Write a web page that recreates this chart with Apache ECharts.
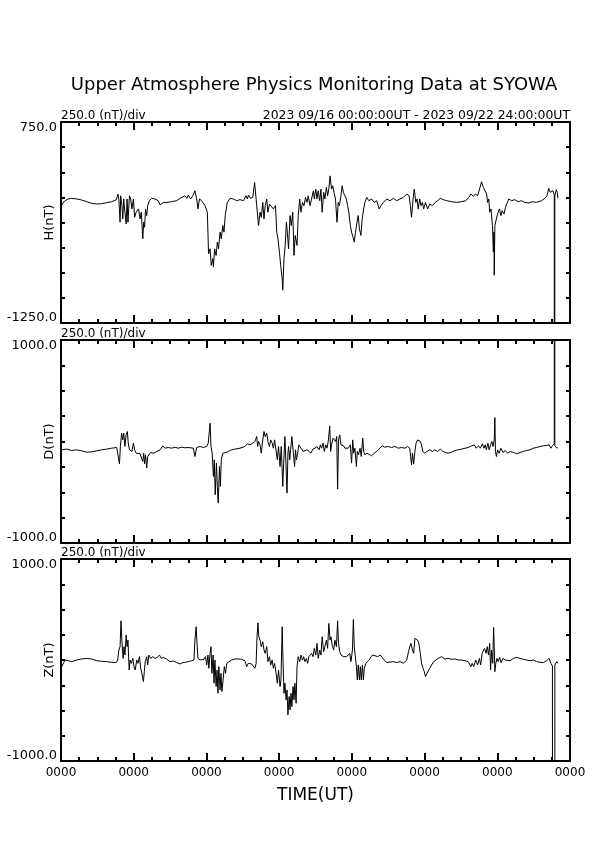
<!DOCTYPE html>
<html>
<head>
<meta charset="utf-8">
<script src="https://cdn.jsdelivr.net/npm/echarts@6/dist/echarts.min.js"></script>
<style>html,body{margin:0;padding:0;background:#fff}#c{width:595px;height:842px}</style>
</head>
<body>
<div id="c"></div>
<script>
// time in hours from 2023-09-16 00:00 UT, value in nT
const hData = [[0,-115],[0.4,-66],[1.3,-33],[2.4,-16],[3.5,-10],[5.2,-16],[6.8,-26],[8.5,-43],[10.1,-59],[11.8,-66],[13.4,-63],[15.1,-53],[16.7,-43],[18.2,-26],
[18.8,33],[19.1,-16],[19.5,-247],[19.7,16],[20.1,-82],[20.4,-215],[20.7,-16],[21.1,-148],[21.5,-264],[21.8,-16],[22.1,-247],[22.6,16],[23.0,-16],[23.4,-115],[23.9,-16],[24.3,-198],[24.8,-148],[25.2,-165],[25.6,-115],[26.1,-215],[26.5,-148],[27.0,-412],[27.3,-247],[27.6,-297],[27.9,-115],[28.3,-181],[28.6,-82],[29.2,-33],[29.9,-10],[31.0,-16],[32.1,-33],[32.7,-76],[33.8,-50],[34.9,-50],[36.5,-43],[38.2,-33],[39.3,-10],[39.8,-26],[40.9,16],[41.5,-10],[42.0,23],[42.8,-16],[43.5,16],[44.2,66],[44.8,-16],[45.2,-115],[45.7,-16],[46.4,-33],[47.5,-82],[48.3,-148],[48.7,-561],[49.2,-512],[49.6,-677],[50.1,-610],[50.3,-693],[50.7,-512],[51.2,-578],[51.6,-445],[52.0,-512],[52.5,-346],[52.9,-412],[53.4,-280],[53.8,-346],[54.2,-181],[54.9,-50],[55.8,-10],[56.9,-16],[58.0,-33],[59.1,-23],[60.2,-33],[61.1,16],[61.5,-16],[61.9,23],[62.6,-10],[63.3,0],[63.9,148],[64.4,-16],[64.8,0],[65.2,-280],[65.7,-148],[66.1,-198],[66.6,-50],[67.0,-215],[67.4,-82],[67.9,-16],[68.3,-148],[68.8,-66],[69.4,-82],[70.1,-115],[70.8,-82],[71.2,-346],[71.6,-412],[72.1,-545],[72.5,-677],[73.0,-808],[73.2,-924],[73.6,-610],[74.0,-478],[74.4,-247],[74.7,-346],[75.1,-512],[75.6,-181],[76.0,-280],[76.5,-148],[76.9,-578],[77.3,-379],
[77.9,-478],[78.3,-181],[78.8,-16],[79.2,-148],[79.7,-50],[80.2,-82],[80.7,0],[81.2,-50],[81.6,16],[82.2,-82],[82.7,-16],[83.3,66],[83.6,-16],[84.1,82],[84.5,-16],[84.9,66],[85.4,-33],[85.8,82],[86.2,-148],[86.7,50],[87.1,-16],[87.6,99],[88.0,16],[88.4,82],[88.8,214],[89.3,82],[89.7,115],[90.1,50],[90.6,-16],[91.1,-247],[91.5,-50],[91.9,-82],[92.4,16],[92.8,115],[93.2,50],[93.7,16],[94.2,-16],[94.6,-82],[95.0,-148],[95.5,-280],[95.9,-346],[96.4,-396],[96.8,-445],[97.2,-346],[97.7,-247],[98.1,-181],[98.5,-313],[99.0,-379],[99.4,-214],[99.9,-115],[100.3,-50],[100.9,0],[101.6,-33],[102.5,-16],[103.4,-50],[104.2,-33],[105.0,-115],[105.6,-82],[106.4,-50],[107.5,-16],[108.6,-33],[109.7,-10],[110.8,-33],[111.9,-16],[113.0,0],[114.1,33],[114.9,16],[115.3,-82],[115.7,-198],[116.2,-16],[116.6,82],[117.1,-50],[117.5,-16],[117.9,-115],[118.4,-16],[118.8,-82],[119.3,-50],[119.7,-115],[120.3,-50],[121.0,-115],[121.7,-66],[122.6,-82],[123.5,-50],[124.3,-33],[125.2,-10],[126.2,-23],[127.3,-33],[128.9,-43],[130.6,-50],[132.2,-43],[133.6,-33],[134.6,0],[135.3,33],[136.1,10],[136.8,33],[137.5,16],[138.3,99],[138.8,155],[139.4,99],[139.9,82],[140.5,33],[140.8,-50],[141.2,-16],[141.5,-148],[141.9,-115],[142.4,-280],[142.7,-545],[142.9,-346],[143.0,-775],[143.2,-280],[143.7,-214],[144.1,-165],[144.7,-115],[145.2,-181],[145.6,-132],[146.2,-165],[146.7,-99],[147.2,-115],[147.8,-16],[148.7,-33],[149.8,-23],[150.9,-43],[152.0,-33],[153.1,-50],[154.2,-56],[155.6,-43],[157.0,-50],[158.6,-33],[159.7,-10],[160.4,16],[161.0,89],[161.5,50],[161.9,33],[162.4,66],[162.8,23],[162.9,-40000],[163.0,16],[163.5,76],[163.8,50],[164.0,-10]];

const dData = [[0,-82],[1.9,-75],[3.5,-89],[5.2,-82],[6.8,-92],[8.5,-105],[10.1,-102],[11.8,-92],[13.4,-82],[15.1,-75],[16.7,-66],[18.4,-59],[19.0,-66],[19.3,-220],[19.6,-49],[20.0,82],[20.4,16],[20.7,82],[21.1,-49],[21.5,66],[21.9,98],[22.2,-16],[22.6,-82],[23.0,-66],[23.4,-98],[23.9,-16],[24.3,-82],[24.8,-115],[25.4,-98],[26.1,-121],[26.5,-108],[27.0,-197],[27.3,-115],[27.6,-220],[27.9,-131],[28.3,-262],[28.6,-148],[29.0,-131],[29.6,-108],[30.5,-115],[31.6,-98],[32.7,-82],[33.6,-43],[34.3,-66],[35.4,-59],[36.5,-66],[37.6,-56],[38.7,-66],[39.8,-56],[40.9,-62],[42.0,-59],[43.7,-66],[44.2,-148],[44.8,-59],[45.9,-49],[47.0,-59],[48.1,-49],[48.6,-16],[49.2,180],[49.5,-49],[49.9,-115],[50.3,-344],[50.6,-180],[50.9,-525],[51.3,-213],[51.6,-443],[51.9,-607],[52.3,-246],[52.6,-443],[52.9,-180],[53.4,-115],[53.8,-131],[54.5,-108],[55.2,-98],[56.3,-82],[57.4,-75],[59.1,-66],[60.7,-49],[61.5,-23],[62.4,-33],[63.3,-16],[64.0,0],[64.6,49],[64.9,-49],[65.2,0],[65.7,-33],[66.1,-115],[66.6,16],[67.0,98],[67.4,49],[67.9,82],[68.3,0],[68.8,-49],[69.2,16],[69.7,-16],[70.1,-66],[70.5,16],[71.0,33],[71.4,-180],[71.8,-49],[72.3,-246],[72.7,-49],[73.2,-443],[73.5,-213],[73.9,49],[74.2,-180],[74.6,-508],[74.9,-115],[75.1,-49],[75.5,-180],[75.8,-82],[76.2,49],[76.7,-115],[77.1,-246],[77.4,-82],[77.7,-180],[78.1,-115],[78.5,-33],
[79.2,-66],[79.9,-98],[80.5,-115],[81.2,-82],[81.8,-98],[82.5,-115],[83.1,-75],[83.8,-66],[84.5,-49],[85.2,-82],[85.6,-33],[86.0,-66],[86.5,-16],[86.9,-98],[87.4,-33],[87.8,-66],[88.2,0],[88.7,154],[89.0,-98],[89.3,-33],[89.8,33],[90.2,49],[90.6,0],[91.0,49],[91.3,-469],[91.6,16],[92.0,66],[92.4,-33],[92.8,-49],[93.3,-43],[93.7,-66],[94.3,-49],[94.8,-66],[95.5,-33],[95.9,-213],[96.3,16],[96.6,-115],[97.0,-66],[97.5,-246],[97.8,-98],[98.2,-131],[98.7,-66],[99.1,-148],[99.6,33],[99.9,-98],[100.3,-131],[101.0,-115],[101.6,-131],[102.5,-141],[103.4,-115],[104.2,-98],[105.3,-66],[106.0,-43],[106.9,-56],[108.0,-49],[109.1,-59],[110.2,-49],[111.3,-66],[112.4,-59],[113.5,-66],[114.4,-49],[115.1,-66],[115.4,-148],[115.7,-230],[116.0,-115],[116.4,-220],[116.8,-98],[117.2,-16],[117.7,16],[118.1,16],[118.6,0],[119.0,-33],[119.4,-98],[120.1,-115],[120.8,-98],[121.7,-82],[122.6,-98],[123.4,-82],[124.3,-98],[125.2,-75],[126.0,-98],[126.9,-108],[127.8,-115],[128.9,-105],[130.0,-89],[131.1,-82],[132.2,-75],[133.4,-66],[134.4,-59],[135.5,-43],[136.4,-33],[137.0,-66],[137.8,-43],[138.4,-66],[139.1,-23],[139.6,-66],[140.0,-33],[140.4,-82],[140.9,-16],[141.3,-82],[141.8,-33],[142.2,0],[142.6,-49],[143.0,16],[143.2,236],[143.4,-98],[143.7,-148],[144.1,-82],[144.6,-115],[145.2,-66],[145.9,-108],[146.6,-89],[147.4,-115],[148.3,-98],[149.3,-108],[150.4,-121],[151.5,-108],[152.6,-98],[153.7,-89],[154.8,-82],[155.9,-66],[157.0,-59],[158.1,-49],[159.2,-43],[160.3,-39],[161.1,-33],[161.7,-66],[162.2,-43],[162.6,-49],[162.8,-23],[162.9,40000],[163.0,-43],[163.7,-66],[164.0,-59]];

const zData = [[0,-82],[0.3,-99],[0.8,-33],[1.3,0],[2.4,-7],[3.5,-16],[5.2,0],[6.8,10],[8.5,16],[10.1,10],[11.8,-7],[13.4,-13],[15.1,-16],[16.7,-23],[18.2,-26],[18.7,0],[19.1,99],[19.5,132],[19.8,388],[20.1,197],[20.5,16],[20.8,132],[21.1,49],[21.5,247],[21.8,132],[22.1,197],[22.5,-99],[22.8,0],[23.2,-33],[23.7,16],[24.1,-66],[24.5,-99],[25.0,0],[25.4,-33],[25.9,33],[26.3,-82],[26.7,-132],[27.2,-214],[27.5,-115],[27.8,-16],[28.3,33],[28.6,-49],[29.0,49],[29.6,16],[30.3,33],[31.0,16],[31.8,26],[32.5,49],[33.1,16],[33.8,26],[34.9,7],[36.0,-16],[37.1,-10],[38.2,-26],[39.3,-39],[40.2,-26],[41.0,-23],[42.0,-16],[43.1,-7],[43.9,0],[44.2,197],[44.6,329],[44.9,164],[45.2,16],[45.9,0],[46.5,-7],[47.2,7],[47.7,33],[48.1,-49],[48.5,49],[48.8,-82],[49.2,66],[49.5,132],[49.8,-132],[50.2,49],[50.5,-230],[50.8,0],[51.2,-263],[51.5,-99],[51.8,-329],[52.1,-66],[52.5,-296],[52.8,-132],[53.1,-313],[53.5,-197],[53.9,-66],[54.3,-132],[54.7,-33],[55.3,-16],[56.3,0],[57.4,10],[58.5,10],[59.6,7],[60.7,-7],[61.3,-66],[61.8,-33],[62.4,-49],[62.9,-39],[63.5,-49],[64.0,-82],[64.4,-33],[64.7,230],[65.0,368],[65.3,230],[65.7,197],[66.1,132],[66.6,181],[67.0,99],[67.4,66],[67.9,132],[68.3,-16],[68.8,33],[69.2,-49],[69.7,0],[70.1,-82],[70.5,-33],[71.0,-132],[71.4,-230],[71.8,-99],[72.3,-263],[72.6,-197],[73.0,329],[73.3,-33],[73.6,-329],[73.9,-230],[74.3,-395],[74.6,-296],[74.9,-543],[75.3,-362],[75.6,-494],[75.9,-329],[76.2,-461],[76.6,-263],[76.9,-395],[77.2,-230],[77.6,-428],[77.9,-66],
[78.3,33],[78.8,-16],[79.2,49],[79.7,0],[80.1,33],[80.5,-16],[81.0,16],[81.4,-33],[81.8,33],[82.3,16],[82.7,66],[83.2,33],[83.6,115],[84.1,49],[84.5,164],[84.9,16],[85.4,99],[85.8,49],[86.2,230],[86.7,82],[87.1,132],[87.6,197],[88.0,115],[88.4,362],[88.8,197],[89.1,230],[89.6,132],[90.0,99],[90.4,197],[90.9,132],[91.3,388],[91.6,164],[92.0,82],[92.4,49],[92.8,66],[93.3,33],[93.7,49],[94.3,33],[94.8,16],[95.3,66],[95.7,-16],[96.2,99],[96.5,401],[96.8,132],[97.1,49],[97.5,-66],[97.8,-197],[98.1,-49],[98.5,-197],[98.8,-66],[99.1,-197],[99.5,-49],[99.8,-197],[100.1,-82],[100.6,-33],[101.0,-49],[101.7,0],[102.3,33],[103.0,49],[103.6,39],[104.5,33],[105.4,49],[106.0,33],[106.7,0],[107.5,-26],[108.6,-20],[109.7,-16],[110.8,-26],[111.9,-16],[113.0,-33],[114.1,0],[114.7,82],[115.1,132],[115.5,164],[116.0,99],[116.4,66],[116.8,214],[117.3,230],[117.7,197],[118.1,164],[118.6,66],[119.0,-33],[119.5,-82],[119.9,-115],[120.3,-164],[120.8,-132],[121.2,-115],[121.7,-82],[122.3,-49],[123.0,-16],[123.6,0],[124.5,16],[125.6,33],[126.7,10],[127.8,16],[128.9,7],[130.0,10],[131.1,0],[132.2,0],[133.4,-7],[134.4,-16],[135.3,-66],[135.7,-33],[136.2,-66],[136.9,0],[137.5,-49],[138.1,16],[138.5,-49],[139.0,66],[139.4,82],[139.8,115],[140.3,66],[140.7,132],[141.1,49],[141.5,164],[141.8,-99],[142.1,99],[142.5,-33],[142.8,322],[143.2,-115],[143.5,-33],[143.9,16],[144.3,-16],[144.8,26],[145.2,-26],[145.9,16],[146.6,0],[147.2,7],[148.2,-7],[149.3,16],[150.4,26],[151.5,16],[152.6,7],[153.7,0],[154.8,-7],[155.9,0],[157.0,-16],[158.1,-23],[159.2,-26],[160.3,-7],[161.1,16],[161.7,-33],[162.2,-59],[162.6,-49],[162.8,-66],[162.9,-40000],[163.0,-49],[163.7,-16],[164.0,-33]];

const panelNames = ['H(nT)', 'D(nT)', 'Z(nT)'];
const panelMin = [-1250, -1000, -1000];
const panelMax = [750, 1000, 1000];
const panelData = [hData, dData, zData];
const scaleText = '250.0 (nT)/div';
const periodText = '2023 09/16 00:00:00UT - 2023 09/22 24:00:00UT';
const titleText = 'Upper Atmosphere Physics Monitoring Data at SYOWA';
const xTickLabel = '0000';

const FONT = 'DejaVu Sans';
const grids = [
  {left: 61, width: 509, top: 122, height: 201, containLabel: false, outerBoundsMode: 'none'},
  {left: 61, width: 509, top: 340, height: 203, containLabel: false, outerBoundsMode: 'none'},
  {left: 61, width: 509, top: 559, height: 202, containLabel: false, outerBoundsMode: 'none'}
];

const xAxes = [], yAxes = [], series = [], graphics = [];
grids.forEach((g, i) => {
  const lineStyle = {color: '#000', width: 2};
  const common = {
    type: 'value', gridIndex: i, min: 0, max: 168, interval: 24,
    axisLine: {show: true, onZero: false, lineStyle},
    axisTick: {show: true, inside: true, length: 8, lineStyle: {color: '#000', width: 2}},
    minorTick: {show: true, splitNumber: 4, length: 4, lineStyle: {color: '#000', width: 2}},
    splitLine: {show: false}
  };
  xAxes.push(Object.assign({}, common, {
    position: 'bottom',
    axisLabel: {show: i === 2, formatter: () => xTickLabel, fontFamily: FONT, fontSize: 12, color: '#000', margin: 6},
    name: i === 2 ? 'TIME(UT)' : '', nameLocation: 'middle', nameGap: 26, nameMoveOverlap: false,
    nameTextStyle: {fontFamily: FONT, fontSize: 17, color: '#000'}
  }));
  xAxes.push(Object.assign({}, common, {position: 'top', axisLabel: {show: false}}));
  const mn = panelMin[i], mx = panelMax[i];
  const ycommon = {
    type: 'value', gridIndex: i, min: mn, max: mx, interval: 250,
    axisLine: {show: true, onZero: false, lineStyle},
    axisTick: {show: true, inside: true, length: 4, lineStyle: {color: '#000', width: 2}},
    splitLine: {show: false}
  };
  yAxes.push(Object.assign({}, ycommon, {
    position: 'left',
    name: panelNames[i], nameLocation: 'middle', nameRotate: 90, nameGap: 5, nameMoveOverlap: false,
    nameTextStyle: {fontFamily: FONT, fontSize: 13, color: '#000'},
    axisLabel: {
      show: true, margin: 4, color: '#000', fontFamily: FONT, fontSize: 13,
      formatter: (v) => v === mx ? '{t|' + v.toFixed(1) + '}' : (v === mn ? '{b|' + v.toFixed(1) + '}' : ''),
      rich: {
        t: {fontFamily: FONT, fontSize: 13, color: '#000', padding: [12, 0, 0, 0]},
        b: {fontFamily: FONT, fontSize: 13, color: '#000', padding: [0, 0, 10, 0]}
      }
    }
  }));
  yAxes.push(Object.assign({}, ycommon, {position: 'right', axisLabel: {show: false}}));
  series.push({
    type: 'line', xAxisIndex: i * 2, yAxisIndex: i * 2, data: panelData[i],
    showSymbol: false, symbol: 'none', clip: true,
    lineStyle: {color: '#000', width: 1}, animation: false
  });
  graphics.push({
    type: 'text', left: 61, top: g.top - 12, silent: true,
    style: {text: scaleText, fontFamily: FONT, fontSize: 12, fill: '#000'}
  });
});
graphics.push({
  type: 'text', right: 25, top: grids[0].top - 12, silent: true,
  style: {text: periodText, fontFamily: FONT, fontSize: 12.4, fill: '#000'}
});

const chart = echarts.init(document.getElementById('c'), null, {renderer: 'canvas'});
chart.setOption({
  animation: false,
  backgroundColor: '#fff',
  title: {text: titleText, left: 309, textAlign: 'center', top: 71,
    textStyle: {fontFamily: FONT, fontSize: 18, fontWeight: 'normal', color: '#000'}},
  grid: grids,
  xAxis: xAxes,
  yAxis: yAxes,
  series: series,
  graphic: graphics
});
</script>
</body>
</html>
